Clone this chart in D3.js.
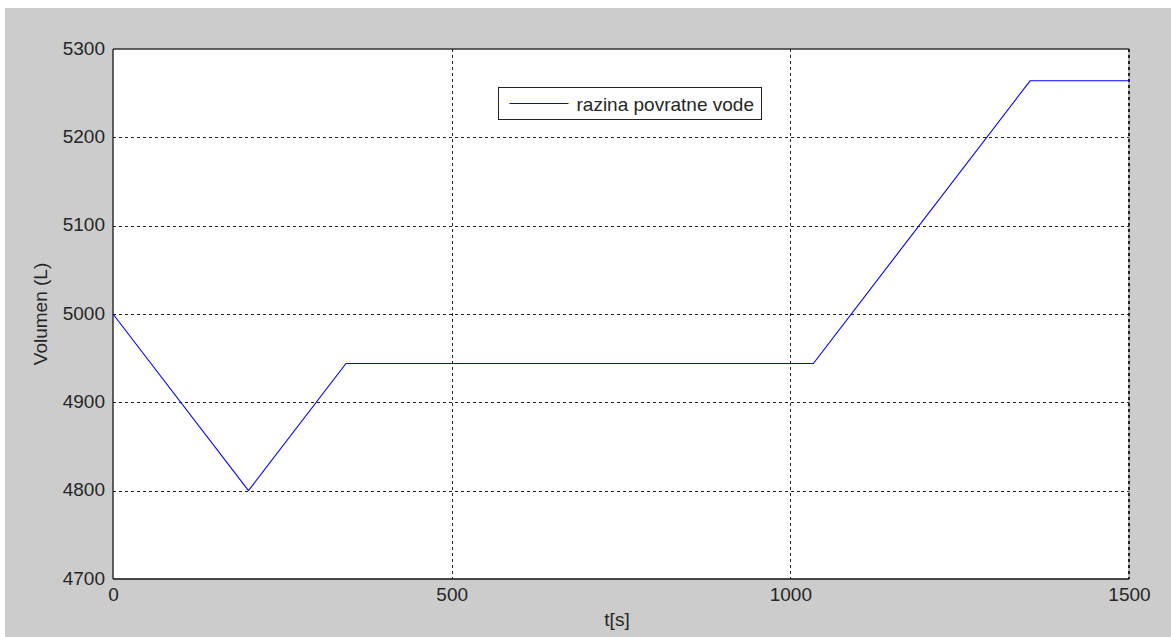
<!DOCTYPE html>
<html>
<head>
<meta charset="utf-8">
<script src="https://cdn.jsdelivr.net/npm/d3@7"></script>
<style>
  html, body { margin: 0; padding: 0; background: #ffffff; }
  svg { display: block; }
  text { font-family: "Liberation Sans", Arial, sans-serif; fill: #262626; }
</style>
</head>
<body>
<script>
// Return-water tank volume over time
const timeValues   = [0, 200, 344, 1034, 1354, 1500];
const volumeValues = [5000, 4800, 4944, 4944, 5264, 5264];
const xTickValues  = [0, 500, 1000, 1500];
const yTickValues  = [4700, 4800, 4900, 5000, 5100, 5200, 5300];
const seriesName   = "razina povratne vode";
const xLabel = "t[s]";
const yLabel = "Volumen (L)";

const W = 1171, H = 637;
const plot = { left: 113, top: 49, right: 1129, bottom: 579 };
const FONT = 19;

const svg = d3.select("body").append("svg").attr("width", W).attr("height", H);

// grey figure background
svg.append("rect").attr("x", 5).attr("y", 8).attr("width", W - 5).attr("height", H - 8)
  .attr("fill", "#cccccc");

const x = d3.scaleLinear().domain([0, 1500]).range([plot.left, plot.right]);
const y = d3.scaleLinear().domain([4700, 5300]).range([plot.bottom, plot.top]);

// axes area
svg.append("rect")
  .attr("x", plot.left).attr("y", plot.top)
  .attr("width", plot.right - plot.left).attr("height", plot.bottom - plot.top)
  .attr("fill", "#ffffff");

// frame
const frame = svg.append("g");
frame.append("line").attr("x1", plot.left).attr("x2", plot.right).attr("y1", plot.top).attr("y2", plot.top)
  .attr("stroke", "#333").attr("stroke-width", 1.5);
frame.append("line").attr("x1", plot.left).attr("x2", plot.left).attr("y1", plot.top).attr("y2", plot.bottom)
  .attr("stroke", "#333").attr("stroke-width", 1.5);
frame.append("line").attr("x1", plot.left).attr("x2", plot.right).attr("y1", plot.bottom).attr("y2", plot.bottom)
  .attr("stroke", "#111").attr("stroke-width", 1.5);
frame.append("line").attr("x1", plot.right).attr("x2", plot.right).attr("y1", plot.top).attr("y2", plot.bottom)
  .attr("stroke", "#888").attr("stroke-width", 1);

// dashed grid
const grid = svg.append("g").attr("stroke", "#222").attr("stroke-width", 1)
  .attr("stroke-dasharray", "3,3").attr("shape-rendering", "crispEdges");
grid.selectAll(".gx").data(xTickValues.filter(d => d > 0)).join("line")
  .attr("x1", d => Math.round(x(d))).attr("x2", d => Math.round(x(d)))
  .attr("y1", plot.top).attr("y2", plot.bottom)
  .attr("stroke-width", d => d === 1500 ? 2 : 1);
grid.selectAll(".gy").data(yTickValues.filter(d => d > 4700 && d < 5300)).join("line")
  .attr("x1", plot.left).attr("x2", plot.right)
  .attr("y1", d => Math.round(y(d)) + 0.5).attr("y2", d => Math.round(y(d)) + 0.5);

// axes tick labels
const yAxis = d3.axisLeft(y).tickValues(yTickValues).tickSize(0).tickPadding(8).tickFormat(d3.format("d"));
const gy = svg.append("g").attr("transform", `translate(${plot.left},0)`).call(yAxis);
gy.select(".domain").remove();
gy.selectAll("text").attr("font-size", FONT).attr("fill", "#262626").attr("dy", "0.28em")
  .style("font-family", "'Liberation Sans', Arial, sans-serif");

const xAxis = d3.axisBottom(x).tickValues(xTickValues).tickSize(0).tickPadding(9).tickFormat(d3.format("d"));
const gx = svg.append("g").attr("transform", `translate(0,${plot.bottom})`).call(xAxis);
gx.select(".domain").remove();
gx.selectAll("text").attr("font-size", FONT).attr("fill", "#262626")
  .style("font-family", "'Liberation Sans', Arial, sans-serif");

// axis titles
svg.append("text").attr("x", 617).attr("y", 626)
  .attr("text-anchor", "middle").attr("font-size", FONT).text(xLabel);
svg.append("text")
  .attr("transform", `translate(47,${(plot.top + plot.bottom) / 2}) rotate(-90)`)
  .attr("text-anchor", "middle").attr("font-size", FONT).text(yLabel);

// data line
const data = timeValues.map((t, i) => [t, volumeValues[i]]);
svg.append("path").datum(data)
  .attr("fill", "none").attr("stroke", "#0000ff").attr("stroke-width", 1.1)
  .attr("d", d3.line().x(d => x(d[0])).y(d => y(d[1])));

// legend
const lg = svg.append("g").attr("transform", "translate(498.5,87.5)");
lg.append("rect").attr("width", 263).attr("height", 32)
  .attr("fill", "#ffffff").attr("stroke", "#222").attr("stroke-width", 1);
lg.append("line").attr("x1", 11).attr("x2", 70).attr("y1", 16).attr("y2", 16)
  .attr("stroke", "#0000ff").attr("stroke-width", 1);
lg.append("text").attr("x", 78).attr("y", 23).attr("font-size", FONT).text(seriesName);
</script>
</body>
</html>
